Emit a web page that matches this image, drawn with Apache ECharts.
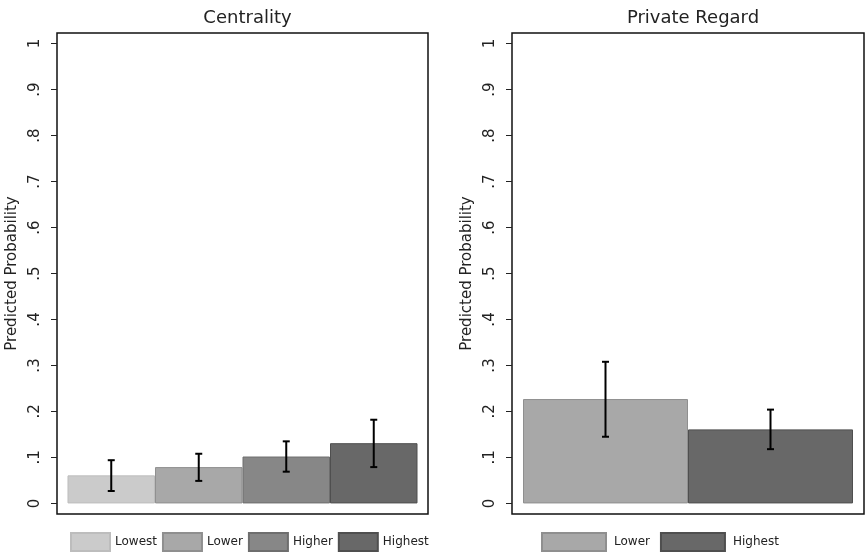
<!DOCTYPE html>
<html>
<head>
<meta charset="utf-8">
<script src="https://cdn.jsdelivr.net/npm/echarts@6/dist/echarts.min.js"></script>
<style>
html,body{margin:0;padding:0;background:#fff;}
#chart{width:865px;height:553px;}
</style>
</head>
<body>
<div id="chart"></div>
<script>
// ---- data ----
const leftTitle = 'Centrality';
const rightTitle = 'Private Regard';
const yAxisTitle = 'Predicted Probability';
const leftCats = ['Lowest', 'Lower', 'Higher', 'Highest'];
const leftMeans = [0.061, 0.079, 0.102, 0.131];
const leftLow = [0.027, 0.049, 0.069, 0.079];
const leftHigh = [0.094, 0.108, 0.135, 0.182];
const rightCats = ['Lower', 'Highest'];
const rightMeans = [0.227, 0.161];
const rightLow = [0.145, 0.118];
const rightHigh = [0.308, 0.204];
const yTicks = [0, 0.1, 0.2, 0.3, 0.4, 0.5, 0.6, 0.7, 0.8, 0.9, 1];
const yTickLabels = ['0', '.1', '.2', '.3', '.4', '.5', '.6', '.7', '.8', '.9', '1'];

// ---- styles ----
const FONT = 'DejaVu Sans';
const fillColors = { Lowest: '#cbcbcb', Lower: '#a8a8a8', Higher: '#878787', Highest: '#686868' };
const edgeColors = { Lowest: '#bdbdbd', Lower: '#8f8f8f', Higher: '#6e6e6e', Highest: '#4f4f4f' };

const chart = echarts.init(document.getElementById('chart'), null, { renderer: 'canvas' });

const grids = [
  { left: 57, top: 33, width: 371, height: 481 },
  { left: 512, top: 33, width: 352, height: 481 }
];

function yAxisFor(gi) {
  return {
    type: 'value', gridIndex: gi, min: -0.023, max: 1.023,
    name: yAxisTitle, nameLocation: 'middle', nameGap: 37,
    nameTextStyle: { fontFamily: FONT, fontSize: 15, color: '#222' },
    axisLine: { show: false },
    splitLine: { show: false },
    axisTick: { show: true, length: 6, lineStyle: { color: '#222', width: 1 }, customValues: yTicks },
    axisLabel: {
      rotate: 90, margin: 14, fontFamily: FONT, fontSize: 15, color: '#222',
      customValues: yTicks,
      formatter: v => { const i = yTicks.findIndex(t => Math.abs(t - v) < 1e-9); return i >= 0 ? yTickLabels[i] : ''; }
    }
  };
}
function xAxisFor(gi) {
  return {
    type: 'category', gridIndex: gi, data: ['g'], boundaryGap: true,
    axisLine: { show: false }, axisTick: { show: false }, axisLabel: { show: false }, splitLine: { show: false }
  };
}

const series = [];
function addPanel(gi, cats, means, lows, highs, gapPct) {
  cats.forEach((c, i) => {
    series.push({
      type: 'bar', name: c, xAxisIndex: gi, yAxisIndex: gi,
      data: [means[i]], barGap: '0%', barCategoryGap: gapPct,
      itemStyle: { color: fillColors[c], borderColor: edgeColors[c], borderWidth: 1 },
      emphasis: { disabled: true }, animation: false
    });
  });
  const errData = cats.map((c, i) => [0, lows[i], highs[i], i, cats.length]);
  series.push({
    type: 'custom', name: 'err' + gi, xAxisIndex: gi, yAxisIndex: gi, z: 10,
    data: errData, encode: { x: 0, y: [1, 2] }, animation: false, silent: true,
    renderItem: function (params, api) {
      const idx = api.value(3), n = api.value(4);
      const band = api.size([1, 0])[0];
      const gap = parseFloat(gapPct) / 100 * band;
      const w = (band - gap) / n;
      const c0 = api.coord([0, api.value(1)]);
      const c1 = api.coord([0, api.value(2)]);
      const x = c0[0] - (band - gap) / 2 + (idx + 0.5) * w;
      const cap = 3.5;
      const style = { stroke: '#000', lineWidth: 2 };
      return {
        type: 'group', children: [
          { type: 'line', shape: { x1: x, y1: c0[1], x2: x, y2: c1[1] }, style },
          { type: 'line', shape: { x1: x - cap, y1: c0[1], x2: x + cap, y2: c0[1] }, style },
          { type: 'line', shape: { x1: x - cap, y1: c1[1], x2: x + cap, y2: c1[1] }, style }
        ]
      };
    }
  });
}
addPanel(0, leftCats, leftMeans, leftLow, leftHigh, (21 / 371 * 100).toFixed(2) + '%');
addPanel(1, rightCats, rightMeans, rightLow, rightHigh, (22 / 352 * 100).toFixed(2) + '%');

const option = {
  animation: false,
  backgroundColor: '#fff',
  title: [
    { text: leftTitle, left: 242.5, top: 4, textAlign: 'center', textStyle: { fontFamily: FONT, fontSize: 18, fontWeight: 'normal', color: '#222' } },
    { text: rightTitle, left: 688, top: 4, textAlign: 'center', textStyle: { fontFamily: FONT, fontSize: 18, fontWeight: 'normal', color: '#222' } }
  ],
  grid: grids.map(g => Object.assign({ show: true, borderColor: '#111', borderWidth: 1.5, backgroundColor: '#fff', containLabel: false }, g)),
  xAxis: [xAxisFor(0), xAxisFor(1)],
  yAxis: [yAxisFor(0), yAxisFor(1)],
  legend: [
    {
      data: leftCats, left: 70, top: 532, padding: 0, orient: 'horizontal',
      itemWidth: 39, itemHeight: 18, itemGap: 5, icon: 'rect', selectedMode: false,
      textStyle: { fontFamily: FONT, fontSize: 12, color: '#222', width: 43 }
    },
    {
      data: rightCats, left: 541, top: 532, padding: 0, orient: 'horizontal',
      itemWidth: 64, itemHeight: 18, itemGap: 10, icon: 'rect', selectedMode: false,
      textStyle: { fontFamily: FONT, fontSize: 12, color: '#222', width: 75, padding: [0, 0, 0, 3] }
    }
  ],
  series: series
};
chart.setOption(option);
</script>
</body>
</html>
